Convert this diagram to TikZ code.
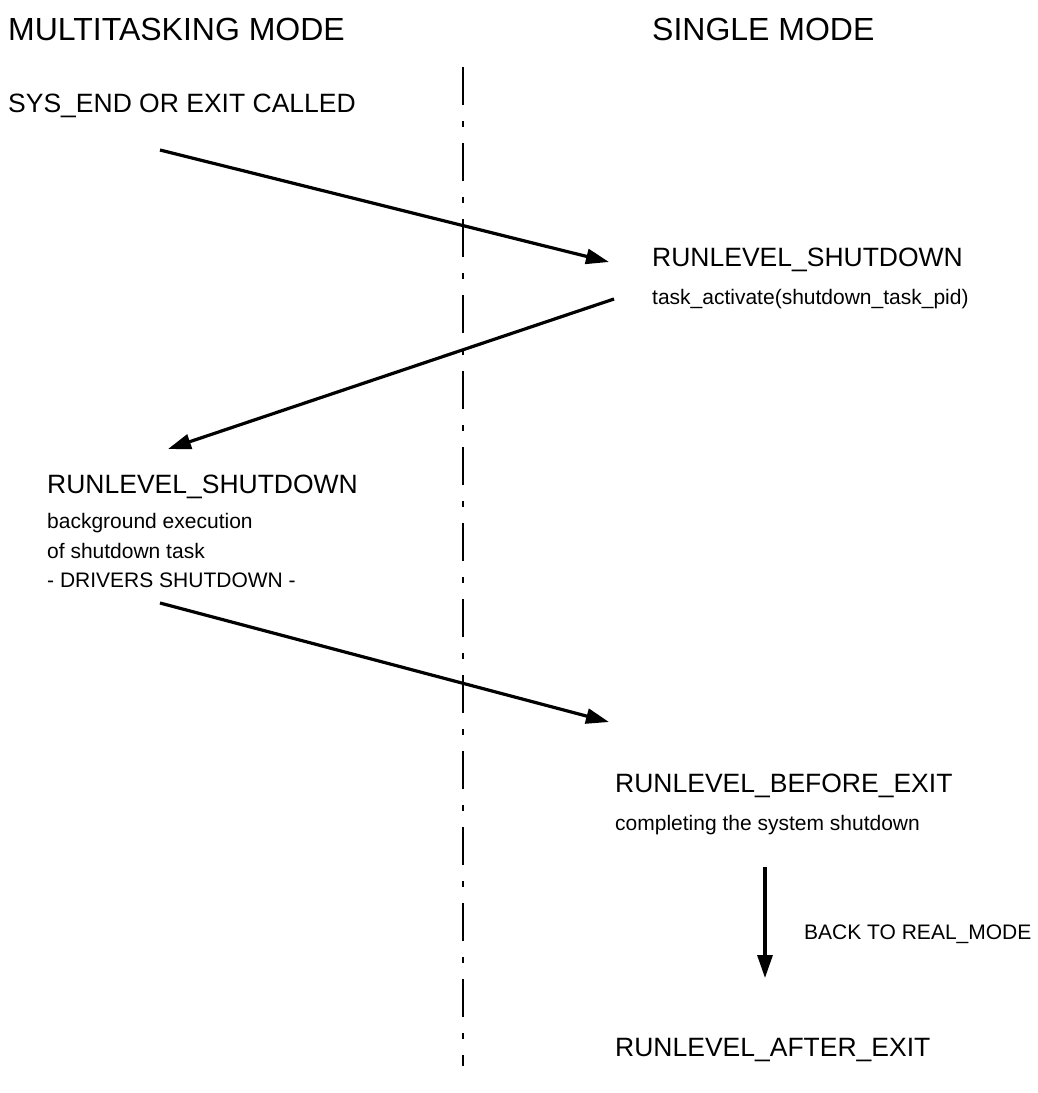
\documentclass[tikz,border=0pt]{standalone}
\usepackage{fontspec}
\setmainfont{Liberation Sans}
\usetikzlibrary{arrows.meta}
\begin{document}
\begin{tikzpicture}[x=1pt, y=-1pt,
    title/.style={anchor=base west, inner sep=0pt, font=\fontsize{32}{36}\selectfont},
    level/.style={anchor=base west, inner sep=0pt, font=\fontsize{26.5}{30}\selectfont},
    remark/.style={anchor=base west, inner sep=0pt, font=\fontsize{21}{24}\selectfont},
    border/.style={line width=1.8pt, dash pattern=on 38pt off 16pt on 6pt off 16pt},
    passes/.style={line width=3.2pt, -{Triangle[length=23pt, width=15pt]}}]
  \useasboundingbox (0,0) rectangle (1038,1093);
  % the two modes, split by the border line
  \node[title] (multi)  at (8, 40)  {MULTITASKING MODE};
  \node[title] (single) at (652, 40) {SINGLE MODE};
  \coordinate (btop) at (463, 67);
  \coordinate (bbot) at (463, 1066);
  \draw[border] (btop) -- (bbot);

  % run levels, in the order they are reached
  \node[level]  (call)   at (8, 112)   {SYS\_END OR EXIT CALLED};
  \node[level]  (shutR)  at (652, 266) {RUNLEVEL\_SHUTDOWN};
  \node[remark] (activ)  at (652, 304) {task\_activate(shutdown\_task\_pid)};
  \node[level]  (shutL)  at (47, 493)  {RUNLEVEL\_SHUTDOWN};
  \foreach \n/\y/\t in {bg1/528/background execution, bg2/558/of shutdown task,
                        bg3/587/- DRIVERS SHUTDOWN -}
    \node[remark] (\n) at (47, \y) {\t};
  \node[level]  (before) at (615, 792)  {RUNLEVEL\_BEFORE\_EXIT};
  \node[remark] (compl)  at (615, 830)  {completing the system shutdown};
  \node[remark] (real)   at (804, 939)  {BACK TO REAL\_MODE};
  \node[level]  (after)  at (615, 1056) {RUNLEVEL\_AFTER\_EXIT};

  % arrow ends
  \coordinate (a1) at (160, 150);
  \coordinate (b1) at (609, 262);
  \coordinate (a2) at (614, 299);
  \coordinate (b2) at (168, 449);
  \coordinate (a3) at (160, 603);
  \coordinate (b3) at (609, 722);
  \coordinate (a4) at (765, 867);
  \coordinate (b4) at (765, 978);
  \foreach \i in {1,...,4}
    \draw[passes] (a\i) -- (b\i);
\end{tikzpicture}
\end{document}
